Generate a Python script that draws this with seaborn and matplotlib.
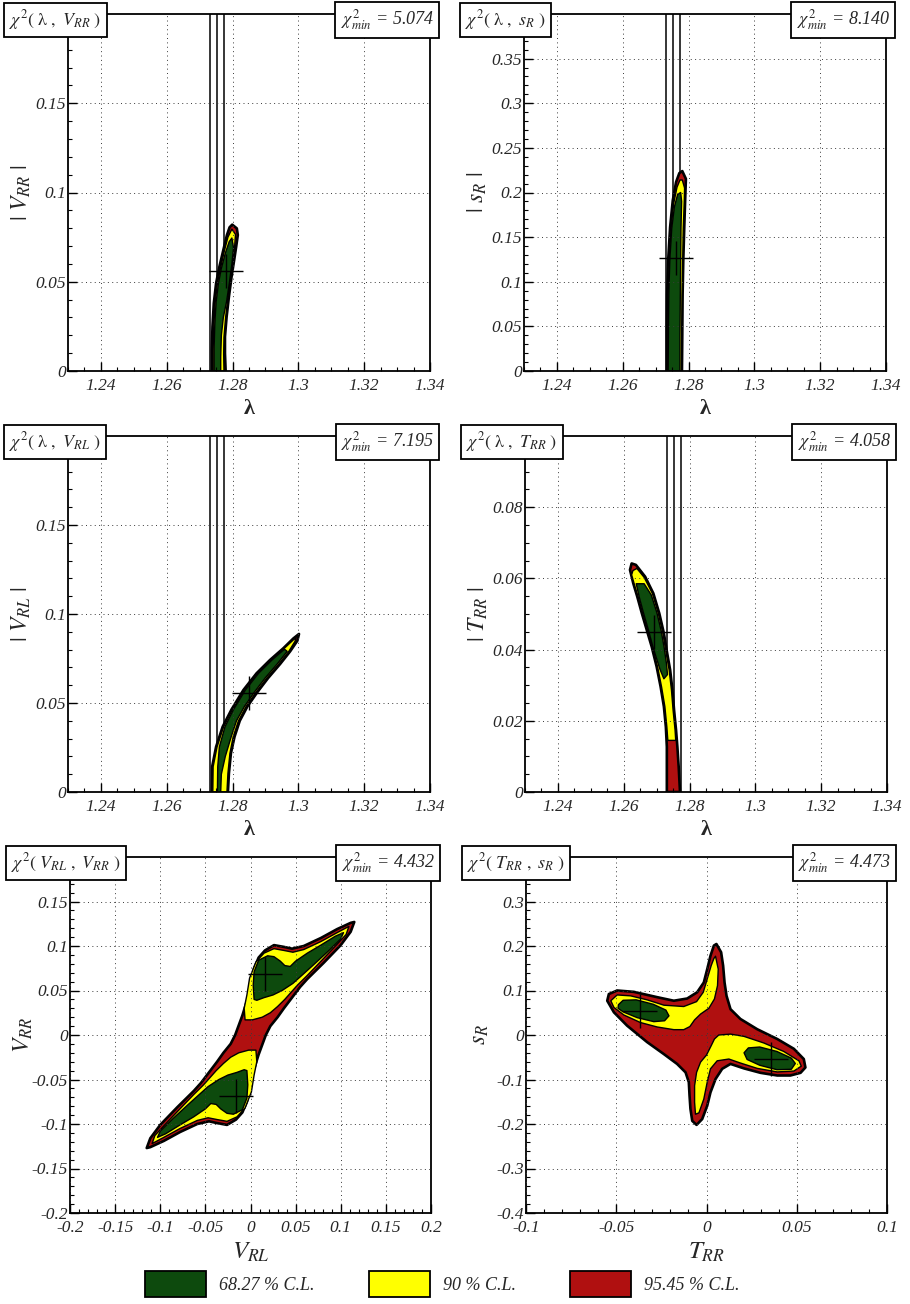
import numpy as np
import matplotlib
matplotlib.use("Agg")
import matplotlib.pyplot as plt
import matplotlib.transforms as mtransforms
from matplotlib.patches import Patch
from matplotlib.ticker import MultipleLocator
import seaborn as sns

sns.set_style("ticks")
plt.rcParams["font.family"] = ["Liberation Serif", "DejaVu Serif"]
plt.rcParams["mathtext.fontset"] = "stix"
plt.rcParams["axes.unicode_minus"] = False

# ---------------------------------------------------------------- legend
CL_LABELS = ["68.27 % C.L.", "90 % C.L.", "95.45 % C.L."]
CL_COLORS = ["#0d4a0d", "#ffff00", "#b01010"]

# measured lambda: central value and +-1 sigma
LAMBDA_BAND = [1.2733, 1.2754, 1.2775]

CHI2_MIN = [5.074, 8.140, 7.195, 4.058, 4.432, 4.473]
TITLES = [r"$\chi^{2}(\ \mathrm{\lambda}\ ,\ V_{RR}\ )$",
          r"$\chi^{2}(\ \mathrm{\lambda}\ ,\ s_{R}\ )$",
          r"$\chi^{2}(\ \mathrm{\lambda}\ ,\ V_{RL}\ )$",
          r"$\chi^{2}(\ \mathrm{\lambda}\ ,\ T_{RR}\ )$",
          r"$\chi^{2}(\ V_{RL}\ ,\ V_{RR}\ )$",
          r"$\chi^{2}(\ T_{RR}\ ,\ s_{R}\ )$"]
XLABELS = ["λ", "λ", "λ", "λ", r"$V_{RL}$", r"$T_{RR}$"]
YLABELS = [r"$|\ V_{RR}\ |$", r"$|\ s_{R}\ |$", r"$|\ V_{RL}\ |$",
           r"$|\ T_{RR}\ |$", r"$V_{RR}$", r"$s_{R}$"]

# ---------------------------------------------------------------- ticks
LAMBDA_TICKS = [1.24, 1.26, 1.28, 1.30, 1.32, 1.34]
VRR_TICKS = [0.0, 0.05, 0.10, 0.15]
SR_TICKS = [0.0, 0.05, 0.10, 0.15, 0.20, 0.25, 0.30, 0.35]
TRR_TICKS = [0.0, 0.02, 0.04, 0.06, 0.08]
V_TICKS_X = [-0.2, -0.15, -0.1, -0.05, 0.0, 0.05, 0.1, 0.15, 0.2]
V_TICKS_Y = [-0.2, -0.15, -0.1, -0.05, 0.0, 0.05, 0.1, 0.15]
T_TICKS_X = [-0.1, -0.05, 0.0, 0.05, 0.1]
S_TICKS_Y = [-0.4, -0.3, -0.2, -0.1, 0.0, 0.1, 0.2, 0.3]

# ---------------------------------------------------------------- best-fit points
BEST_LAM_VRR = ([1.2779], [0.056])
BEST_LAM_SR = ([1.2763], [0.127])
BEST_LAM_VRL = ([1.2850], [0.0556])
BEST_LAM_TRR = ([1.2692], [0.045])
BEST_VRL_VRR = ([0.016, -0.016], [0.068, -0.068])
BEST_TRR_SR = ([-0.037, 0.036], [0.055, -0.054])

# ---------------------------------------------------------------- contours (lambda, |V_RR|)
LAM_VRR_95 = [(1.2799, 0.0820), (1.2813, 0.0799), (1.2816, 0.0762), (1.2811, 0.0696),
              (1.2805, 0.0622), (1.2797, 0.0528), (1.2789, 0.0416), (1.2782, 0.0304),
              (1.2777, 0.0192), (1.2777, 0.0099), (1.2779, 0.0), (1.2737, 0.0),
              (1.2737, 0.0118), (1.2739, 0.0248), (1.2743, 0.0379), (1.2750, 0.0491),
              (1.2760, 0.0584), (1.2772, 0.0678), (1.2783, 0.0762), (1.2791, 0.0805)]
LAM_VRR_90 = [(1.2798, 0.0795), (1.2809, 0.0765), (1.2806, 0.0690), (1.2800, 0.0615),
              (1.2793, 0.0525), (1.2786, 0.0415), (1.2779, 0.0300), (1.2774, 0.0190),
              (1.2773, 0.0095), (1.2774, 0.0), (1.2741, 0.0), (1.2741, 0.0120),
              (1.2743, 0.0250), (1.2747, 0.0380), (1.2754, 0.0490), (1.2764, 0.0580),
              (1.2775, 0.0672), (1.2786, 0.0750)]
LAM_VRR_68 = [(1.2798, 0.0745), (1.2803, 0.0690), (1.2798, 0.0600), (1.2790, 0.0490),
              (1.2782, 0.0390), (1.2772, 0.0300), (1.2766, 0.0200), (1.2764, 0.0080),
              (1.2764, 0.0), (1.2744, 0.0), (1.2744, 0.0130), (1.2746, 0.0260),
              (1.2750, 0.0385), (1.2757, 0.0490), (1.2766, 0.0575), (1.2778, 0.0660),
              (1.2790, 0.0725)]

# ---------------------------------------------------------------- contours (lambda, |s_R|)
LAM_SR_95 = [(1.2781, 0.224), (1.2792, 0.2153), (1.2790, 0.1948), (1.2787, 0.1611),
             (1.2784, 0.1236), (1.2782, 0.0861), (1.2781, 0.0412), (1.2780, 0.0),
             (1.2734, 0.0), (1.2734, 0.0487), (1.2735, 0.0861), (1.2738, 0.1236),
             (1.2744, 0.1611), (1.2752, 0.1910), (1.2762, 0.2116), (1.2772, 0.2217)]
LAM_SR_90 = [(1.2781, 0.214), (1.2788, 0.205), (1.2787, 0.190), (1.2784, 0.160),
             (1.2782, 0.120), (1.2780, 0.085), (1.2779, 0.040), (1.2778, 0.0),
             (1.2737, 0.0), (1.2737, 0.050), (1.2738, 0.086), (1.2741, 0.124),
             (1.2747, 0.160), (1.2755, 0.188), (1.2765, 0.206), (1.2774, 0.214)]
LAM_SR_68 = [(1.2776, 0.200), (1.2779, 0.190), (1.2777, 0.160), (1.2776, 0.120),
             (1.2775, 0.085), (1.2774, 0.040), (1.2774, 0.0), (1.2738, 0.0),
             (1.2739, 0.050), (1.2740, 0.086), (1.2743, 0.124), (1.2749, 0.160),
             (1.2757, 0.184), (1.2767, 0.198)]

# ---------------------------------------------------------------- contours (lambda, |V_RL|)
LAM_VRL_95 = [(1.2737, 0.0), (1.2738, 0.0142), (1.2750, 0.0254), (1.2770, 0.0367),
              (1.2797, 0.0464), (1.2833, 0.0573), (1.2873, 0.0667), (1.2914, 0.0742),
              (1.2954, 0.0807), (1.2985, 0.0863), (1.3002, 0.0888), (1.2997, 0.0850),
              (1.2975, 0.0790), (1.2945, 0.0720), (1.2908, 0.0640), (1.2875, 0.0560),
              (1.2845, 0.0480), (1.2822, 0.0400), (1.2806, 0.0310), (1.2795, 0.0217),
              (1.2789, 0.0105), (1.2786, 0.0)]
LAM_VRL_90 = [(1.2740, 0.0), (1.2741, 0.0142), (1.2753, 0.0254), (1.2773, 0.0367),
              (1.2800, 0.0464), (1.2836, 0.0573), (1.2876, 0.0667), (1.2917, 0.0742),
              (1.2956, 0.0805), (1.2985, 0.0855), (1.2993, 0.0866), (1.2990, 0.0847),
              (1.2971, 0.0790), (1.2941, 0.0720), (1.2904, 0.0640), (1.2871, 0.0560),
              (1.2841, 0.0480), (1.2818, 0.0400), (1.2802, 0.0310), (1.2792, 0.0217),
              (1.2786, 0.0105), (1.2783, 0.0)]
LAM_VRL_68 = [(1.2754, 0.0), (1.2755, 0.0142), (1.2760, 0.0254), (1.2777, 0.0367),
              (1.2803, 0.0464), (1.2839, 0.0573), (1.2879, 0.0667), (1.2920, 0.0742),
              (1.2950, 0.0790), (1.2958, 0.0802), (1.2966, 0.0790), (1.2936, 0.0720),
              (1.2899, 0.0640), (1.2866, 0.0560), (1.2836, 0.0480), (1.2812, 0.0400),
              (1.2796, 0.0311), (1.2778, 0.0200), (1.2766, 0.0100), (1.2764, 0.0)]

# ---------------------------------------------------------------- contours (lambda, |T_RR|)
LAM_TRR_95 = [(1.2624, 0.0642), (1.2619, 0.0624), (1.2629, 0.0586), (1.2641, 0.0549),
              (1.2655, 0.0502), (1.2670, 0.0455), (1.2685, 0.0408), (1.2700, 0.0352),
              (1.2712, 0.0296), (1.2722, 0.0240), (1.2728, 0.0183), (1.2731, 0.0127),
              (1.2731, 0.0), (1.2771, 0.0), (1.2767, 0.0071), (1.2763, 0.0127),
              (1.2759, 0.0174), (1.2753, 0.0230), (1.2748, 0.0287), (1.2741, 0.0343),
              (1.2732, 0.0390), (1.2722, 0.0446), (1.2708, 0.0502), (1.2690, 0.0558),
              (1.2665, 0.0605), (1.2637, 0.0638)]
LAM_TRR_90 = [(1.2628, 0.0622), (1.2624, 0.0610), (1.2632, 0.0584), (1.2644, 0.0548),
              (1.2658, 0.0501), (1.2673, 0.0454), (1.2688, 0.0407), (1.2703, 0.0351),
              (1.2715, 0.0295), (1.2725, 0.0240), (1.2731, 0.0183), (1.2734, 0.0145),
              (1.2758, 0.0145), (1.2756, 0.0174), (1.2750, 0.0230), (1.2745, 0.0287),
              (1.2738, 0.0343), (1.2729, 0.0390), (1.2719, 0.0446), (1.2705, 0.0502),
              (1.2687, 0.0558), (1.2662, 0.0603), (1.2640, 0.0628)]
LAM_TRR_68 = [(1.2638, 0.0585), (1.2662, 0.0585), (1.2684, 0.0553), (1.2701, 0.0503),
              (1.2714, 0.0452), (1.2723, 0.0405), (1.2730, 0.0360), (1.2733, 0.0330),
              (1.2722, 0.0318), (1.2710, 0.0345), (1.2698, 0.0380), (1.2688, 0.0410),
              (1.2675, 0.0455), (1.2660, 0.0503), (1.2647, 0.0548)]

# ---------------------------------------------------------------- contours (V_RL, V_RR)
VRL_VRR_95 = [(0.115, 0.127), (0.111, 0.116), (0.100, 0.101), (0.081, 0.081),
              (0.063, 0.063), (0.055, 0.054), (0.049, 0.046), (0.043, 0.038),
              (0.037, 0.030), (0.030, 0.020), (0.022, 0.010), (0.017, 0.000),
              (0.013, -0.011), (0.009, -0.022), (0.005, -0.035), (0.000, -0.048),
              (-0.001, -0.060), (-0.004, -0.075), (-0.009, -0.087), (-0.016, -0.095),
              (-0.026, -0.101), (-0.037, -0.099), (-0.046, -0.097), (-0.059, -0.100),
              (-0.078, -0.109), (-0.096, -0.119), (-0.111, -0.126),
              (-0.115, -0.127), (-0.111, -0.116), (-0.100, -0.101), (-0.081, -0.081),
              (-0.063, -0.063), (-0.055, -0.054), (-0.049, -0.046), (-0.043, -0.038),
              (-0.037, -0.030), (-0.030, -0.020), (-0.022, -0.010), (-0.017, 0.000),
              (-0.013, 0.011), (-0.009, 0.022), (-0.005, 0.035), (0.000, 0.048),
              (0.001, 0.060), (0.004, 0.075), (0.009, 0.087), (0.016, 0.095),
              (0.026, 0.101), (0.037, 0.099), (0.046, 0.097), (0.059, 0.100),
              (0.078, 0.109), (0.096, 0.119), (0.111, 0.126)]
VRL_VRR_90_UP = [(-0.006, 0.017), (-0.007, 0.030), (-0.004, 0.045), (-0.001, 0.064),
                 (0.006, 0.082), (0.015, 0.092), (0.026, 0.097), (0.037, 0.095),
                 (0.047, 0.093), (0.059, 0.096), (0.078, 0.105), (0.096, 0.115),
                 (0.109, 0.122), (0.106, 0.113), (0.095, 0.101), (0.080, 0.085),
                 (0.063, 0.067), (0.052, 0.056), (0.045, 0.048), (0.038, 0.040),
                 (0.030, 0.032), (0.022, 0.025), (0.013, 0.020), (0.002, 0.017)]
VRL_VRR_90_DN = [(0.006, -0.017), (0.007, -0.030), (0.004, -0.045), (0.001, -0.064),
                 (-0.006, -0.082), (-0.015, -0.092), (-0.026, -0.097), (-0.037, -0.095),
                 (-0.047, -0.093), (-0.059, -0.096), (-0.078, -0.105), (-0.096, -0.115),
                 (-0.109, -0.122), (-0.106, -0.113), (-0.095, -0.101), (-0.080, -0.085),
                 (-0.063, -0.067), (-0.052, -0.056), (-0.045, -0.048), (-0.038, -0.040),
                 (-0.030, -0.032), (-0.022, -0.025), (-0.013, -0.020), (-0.002, -0.017)]
VRL_VRR_68_UP = [(0.004, 0.040), (0.003, 0.056), (0.004, 0.071), (0.009, 0.084),
                 (0.019, 0.089), (0.026, 0.088), (0.033, 0.083), (0.038, 0.078),
                 (0.044, 0.077), (0.050, 0.083), (0.063, 0.092), (0.078, 0.101),
                 (0.094, 0.111), (0.103, 0.115), (0.100, 0.108), (0.086, 0.094),
                 (0.070, 0.079), (0.058, 0.068), (0.047, 0.058), (0.035, 0.050),
                 (0.025, 0.045), (0.015, 0.042), (0.007, 0.039)]
VRL_VRR_68_DN = [(-0.004, -0.040), (-0.003, -0.056), (-0.004, -0.071), (-0.009, -0.084),
                 (-0.019, -0.089), (-0.026, -0.088), (-0.033, -0.083), (-0.038, -0.078),
                 (-0.044, -0.077), (-0.050, -0.083), (-0.063, -0.092), (-0.078, -0.101),
                 (-0.094, -0.111), (-0.103, -0.115), (-0.100, -0.108), (-0.086, -0.094),
                 (-0.070, -0.079), (-0.058, -0.068), (-0.047, -0.058), (-0.035, -0.050),
                 (-0.025, -0.045), (-0.015, -0.042), (-0.007, -0.039)]

# ---------------------------------------------------------------- contours (T_RR, s_R)
TRR_SR_95 = [(0.0055, 0.2045), (0.0081, 0.186), (0.0092, 0.156), (0.0100, 0.118),
             (0.0111, 0.088), (0.0133, 0.058), (0.0188, 0.036), (0.0281, 0.013),
             (0.0392, -0.009), (0.0484, -0.031), (0.0539, -0.054), (0.0548, -0.073),
             (0.0521, -0.085), (0.0465, -0.091), (0.0392, -0.091), (0.0299, -0.085),
             (0.0207, -0.075), (0.0133, -0.065), (0.0087, -0.076), (0.0050, -0.099),
             (0.0022, -0.129), (0.0004, -0.159), (-0.0024, -0.189), (-0.0055, -0.202),
             (-0.0079, -0.193), (-0.0089, -0.166), (-0.0094, -0.136), (-0.0098, -0.106),
             (-0.0116, -0.084), (-0.0163, -0.065), (-0.0236, -0.043), (-0.0329, -0.016),
             (-0.0440, 0.021), (-0.0513, 0.051), (-0.0550, 0.077), (-0.0541, 0.092),
             (-0.0495, 0.100), (-0.0403, 0.097), (-0.0273, 0.085), (-0.0181, 0.077),
             (-0.0107, 0.082), (-0.0052, 0.096), (-0.0015, 0.118), (0.0004, 0.148),
             (0.0022, 0.178), (0.0041, 0.201)]
TRR_SR_90_UL = [(0.0050, 0.177), (0.0065, 0.148), (0.0061, 0.111), (0.0044, 0.081),
                (0.0013, 0.060), (-0.0033, 0.047), (-0.0066, 0.034), (-0.0092, 0.019),
                (-0.0126, 0.012), (-0.0181, 0.012), (-0.0273, 0.018), (-0.0366, 0.028),
                (-0.0458, 0.045), (-0.0513, 0.062), (-0.0530, 0.077), (-0.0495, 0.090),
                (-0.0421, 0.088), (-0.0329, 0.079), (-0.0236, 0.067), (-0.0126, 0.064),
                (-0.0055, 0.075), (-0.0018, 0.096), (0.0004, 0.126), (0.0026, 0.156),
                (0.0041, 0.172)]
TRR_SR_90_LR = [(0.0068, 0.000), (0.0133, 0.002), (0.0207, -0.003), (0.0318, -0.018),
                (0.0428, -0.037), (0.0512, -0.058), (0.0525, -0.070), (0.0484, -0.081),
                (0.0392, -0.083), (0.0281, -0.075), (0.0188, -0.063), (0.0124, -0.054),
                (0.0059, -0.058), (0.0022, -0.076), (0.0004, -0.106), (-0.0015, -0.144),
                (-0.0042, -0.175), (-0.0061, -0.178), (-0.0066, -0.151), (-0.0066, -0.114),
                (-0.0055, -0.084), (-0.0033, -0.061), (0.0000, -0.045), (0.0026, -0.024),
                (0.0044, -0.009)]
TRR_SR_68_UL = [(-0.0488, 0.068), (-0.0462, 0.078), (-0.0390, 0.079), (-0.0295, 0.069),
                (-0.0225, 0.056), (-0.0208, 0.043), (-0.0232, 0.032), (-0.0292, 0.030),
                (-0.0384, 0.039), (-0.0462, 0.052), (-0.0490, 0.060)]
TRR_SR_68_LR = [(0.0208, -0.040), (0.0232, -0.029), (0.0295, -0.027), (0.0390, -0.037),
                (0.0470, -0.052), (0.0492, -0.064), (0.0470, -0.077), (0.0390, -0.078),
                (0.0295, -0.068), (0.0225, -0.055)]

PANELS = [
    dict(regions=[[LAM_VRR_95], [LAM_VRR_90], [LAM_VRR_68]], best=BEST_LAM_VRR,
         xlim=(1.23, 1.34), ylim=(0, 0.2), xt=LAMBDA_TICKS, yt=VRR_TICKS,
         xminor=0.005, yminor=0.01, band=True),
    dict(regions=[[LAM_SR_95], [LAM_SR_90], [LAM_SR_68]], best=BEST_LAM_SR,
         xlim=(1.23, 1.34), ylim=(0, 0.4), xt=LAMBDA_TICKS, yt=SR_TICKS,
         xminor=0.005, yminor=0.01, band=True),
    dict(regions=[[LAM_VRL_95], [LAM_VRL_90], [LAM_VRL_68]], best=BEST_LAM_VRL,
         xlim=(1.23, 1.34), ylim=(0, 0.2), xt=LAMBDA_TICKS, yt=VRR_TICKS,
         xminor=0.005, yminor=0.01, band=True),
    dict(regions=[[LAM_TRR_95], [LAM_TRR_90], [LAM_TRR_68]], best=BEST_LAM_TRR,
         xlim=(1.23, 1.34), ylim=(0, 0.1), xt=LAMBDA_TICKS, yt=TRR_TICKS,
         xminor=0.005, yminor=0.005, band=True),
    dict(regions=[[VRL_VRR_95], [VRL_VRR_90_UP, VRL_VRR_90_DN],
                  [VRL_VRR_68_UP, VRL_VRR_68_DN]], best=BEST_VRL_VRR,
         xlim=(-0.2, 0.2), ylim=(-0.2, 0.2), xt=V_TICKS_X, yt=V_TICKS_Y,
         xminor=0.01, yminor=0.01, band=False),
    dict(regions=[[TRR_SR_95], [TRR_SR_90_UL, TRR_SR_90_LR],
                  [TRR_SR_68_UL, TRR_SR_68_LR]], best=BEST_TRR_SR,
         xlim=(-0.1, 0.1), ylim=(-0.4, 0.4), xt=T_TICKS_X, yt=S_TICKS_Y,
         xminor=0.01, yminor=0.02, band=False),
]

# axes rectangles in pixels: left, top, right, bottom
W, H = 910, 1304
RECTS = [(68, 14, 430, 371), (524, 14, 886, 371),
         (68, 436, 430, 792), (525, 436, 887, 792),
         (70, 857, 431, 1213), (526, 857, 887, 1213)]


def fmt(v):
    return f"{round(v, 4):g}"


fig = plt.figure(figsize=(W / 100, H / 100), dpi=100)
fig.patch.set_facecolor("white")

for i, (spec, (l, t, r, b)) in enumerate(zip(PANELS, RECTS)):
    ax = fig.add_axes([l / W, 1 - b / H, (r - l) / W, (b - t) / H])
    ax.set_facecolor("white")
    ax.set_xlim(*spec["xlim"])
    ax.set_ylim(*spec["ylim"])

    # measured lambda band
    if spec["band"]:
        for v in LAMBDA_BAND:
            ax.axvline(v, color="black", lw=1.1, zorder=0.8)

    # confidence regions: 95.45 %, 90 %, 68.27 %
    levels = list(zip(spec["regions"], CL_COLORS[::-1], [1.9, 1.0, 1.0], [1.0, 1.1, 1.2]))
    for polys, color, lw, z in levels:
        for poly in polys:
            xs, ys = zip(*poly)
            ax.fill(xs, ys, facecolor=color, edgecolor="black", lw=lw,
                    joinstyle="round", zorder=z)

    # best-fit points
    bx, by = spec["best"]
    sns.scatterplot(x=bx, y=by, marker="+", s=620, color="black",
                    linewidth=1.0, ax=ax, zorder=3, legend=False)

    # ticks and grid
    ax.set_xticks(spec["xt"], [fmt(v) for v in spec["xt"]],
                  fontstyle="italic", fontsize=12.5)
    ax.set_yticks(spec["yt"], [fmt(v) for v in spec["yt"]],
                  fontstyle="italic", fontsize=12.5)
    ax.xaxis.set_minor_locator(MultipleLocator(spec["xminor"]))
    ax.yaxis.set_minor_locator(MultipleLocator(spec["yminor"]))
    ax.tick_params(which="major", direction="in", length=6.5, width=1.0,
                   top=False, right=False, color="black")
    ax.tick_params(which="minor", direction="in", length=3.2, width=0.8,
                   top=False, right=False, color="black")
    ax.tick_params(axis="x", which="major", pad=5)
    ax.tick_params(axis="y", which="major", pad=1.5)
    ax.set_axisbelow(False)
    ax.grid(True, which="major", color="#3a3a3a", lw=0.7, ls=(0, (1, 3.5)))
    for sp in ax.spines.values():
        sp.set_visible(True)
        sp.set_linewidth(1.3)
        sp.set_color("black")

    # axis titles
    if XLABELS[i] == "λ":
        ax.set_xlabel("λ", fontsize=16, fontweight="bold")
    else:
        ax.set_xlabel(XLABELS[i], fontsize=18)
    ax.xaxis.set_label_coords(0.5, -0.078)
    ax.xaxis.label.set_va("top")
    ax.set_ylabel(YLABELS[i], fontsize=17)
    ax.yaxis.set_label_coords(-0.097, 0.5)

    # header boxes on the frame
    box = dict(boxstyle="square,pad=0.3", fc="white", ec="black", lw=1.3)
    tl = mtransforms.offset_copy(ax.transAxes, fig=fig, x=-59, y=-6, units="dots")
    ax.text(0, 1, TITLES[i], transform=tl, ha="left", va="center", fontsize=13,
            bbox=box, zorder=10, clip_on=False)
    tr = mtransforms.offset_copy(ax.transAxes, fig=fig, x=4, y=-6, units="dots")
    ax.text(1, 1, r"$\chi^{2}_{min}$" + f" = {CHI2_MIN[i]:.3f}", transform=tr,
            ha="right", va="center", fontsize=13, fontstyle="italic",
            bbox=box, zorder=10, clip_on=False)

# common legend
handles = [Patch(facecolor=c, edgecolor="black", lw=1.3) for c in CL_COLORS]
fig.legend(handles, CL_LABELS, loc="center", bbox_to_anchor=(0.486, 1 - 1284 / H),
           ncol=3, frameon=False, handlelength=3.4, handleheight=1.8,
           handletextpad=0.7, columnspacing=3.0,
           prop=dict(family="Liberation Serif", style="italic", size=13))

fig.savefig("out.png", dpi=100, facecolor="white")
